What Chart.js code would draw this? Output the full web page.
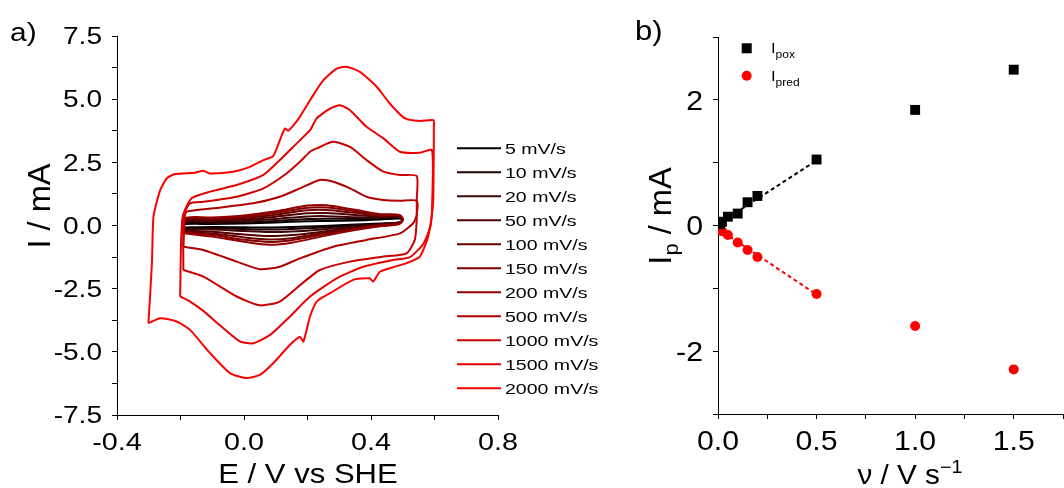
<!DOCTYPE html>
<html>
<head>
<meta charset="utf-8">
<script src="https://cdn.jsdelivr.net/npm/chart.js@4.4.1/dist/chart.umd.min.js"></script>
<style>
    html, body { margin: 0; padding: 0; background: #fff; overflow: hidden; }
    #cvChart { position: absolute; left: 0; top: 0; }
    #peakChart { position: absolute; left: 600px; top: 0; }
</style>
</head>
<body>
<canvas id="cvChart" width="600" height="488"></canvas>
<canvas id="peakChart" width="470" height="488"></canvas>
<script>
// ---- a) voltammogrammes : vitesses de balayage
const scanLabels = ['5 mV/s', '10 mV/s', '20 mV/s', '50 mV/s', '100 mV/s', '150 mV/s',
    '200 mV/s', '500 mV/s', '1000 mV/s', '1500 mV/s', '2000 mV/s'];
const scanColors = ['#000000', '#1e0000', '#3a0808', '#520000', '#680000', '#7e0000',
    '#940000', '#ad0000', '#cc0000', '#e80000', '#ff0000'];

// petites vitesses : potentiel commun (V) et courants (mA)
const smallE = [-0.195, -0.19, -0.10, 0.00, 0.10, 0.20, 0.26, 0.35, 0.43, 0.49,
    0.50, 0.49, 0.43, 0.35, 0.25, 0.15, 0.08, 0.00, -0.10, -0.195];
const cv5 = [-0.08, 0.05, 0.06, 0.08, 0.12, 0.17, 0.18, 0.20, 0.24, 0.28,
    0.22, 0.12, 0.08, 0.04, -0.02, -0.06, -0.08, -0.07, -0.06, -0.08];
const cv10 = [-0.12, 0.10, 0.10, 0.12, 0.18, 0.26, 0.27, 0.26, 0.28, 0.31,
    0.24, 0.12, 0.06, 0.00, -0.08, -0.14, -0.16, -0.14, -0.11, -0.12];
const cv20 = [-0.16, 0.14, 0.15, 0.18, 0.26, 0.36, 0.37, 0.33, 0.32, 0.34,
    0.24, 0.12, 0.05, -0.04, -0.15, -0.24, -0.26, -0.22, -0.16, -0.16];
const cv50 = [-0.20, 0.18, 0.20, 0.24, 0.35, 0.48, 0.49, 0.42, 0.36, 0.37,
    0.24, 0.11, 0.03, -0.08, -0.24, -0.38, -0.42, -0.36, -0.25, -0.20];
const cv100 = [-0.24, 0.22, 0.25, 0.30, 0.43, 0.60, 0.61, 0.50, 0.40, 0.39,
    0.24, 0.10, 0.02, -0.12, -0.30, -0.50, -0.55, -0.47, -0.32, -0.24];
const cv150 = [-0.27, 0.25, 0.28, 0.34, 0.50, 0.70, 0.71, 0.56, 0.42, 0.40,
    0.24, 0.08, 0.00, -0.15, -0.36, -0.58, -0.65, -0.56, -0.38, -0.27];
const cv200 = [-0.30, 0.28, 0.32, 0.40, 0.56, 0.79, 0.80, 0.62, 0.45, 0.42,
    0.24, 0.06, -0.03, -0.18, -0.42, -0.68, -0.76, -0.64, -0.44, -0.30];

// grandes vitesses : couples [E (V), I (mA)]
const cv500 = [[-0.191, -0.84], [-0.186, 0.41], [-0.180, 0.55], [-0.097, 0.68], [0.029, 0.88],
    [0.113, 1.14], [0.176, 1.47], [0.239, 1.80], [0.281, 1.73], [0.334, 1.47], [0.386, 1.14],
    [0.439, 1.01], [0.491, 0.98], [0.544, 0.98], [0.544, 0.41], [0.533, 0.09], [0.491, -0.31],
    [0.386, -0.57], [0.281, -0.84], [0.176, -1.30], [0.113, -1.63], [0.050, -1.73],
    [-0.023, -1.43], [-0.128, -0.97], [-0.191, -0.84]];
const cv1000 = [[-0.191, -1.76], [-0.191, -0.18], [-0.186, 0.53], [-0.170, 0.88], [-0.128, 0.94],
    [-0.023, 1.14], [0.061, 1.47], [0.134, 2.06], [0.176, 2.52], [0.208, 2.92], [0.229, 3.05],
    [0.281, 3.31], [0.334, 3.11], [0.386, 2.59], [0.439, 2.13], [0.491, 2.00], [0.544, 1.96],
    [0.544, 1.01], [0.544, 0.22], [0.538, -0.57], [0.512, -1.10], [0.439, -1.23], [0.334, -1.43],
    [0.239, -1.76], [0.190, -2.22], [0.113, -3.01], [0.050, -3.16], [-0.023, -2.81],
    [-0.128, -2.02], [-0.191, -1.76]];
const cv1500 = [[-0.201, -2.81], [-0.198, -0.57], [-0.192, 0.41], [-0.165, 1.08], [-0.107, 1.34],
    [-0.023, 1.60], [0.061, 2.00], [0.113, 2.59], [0.166, 3.25], [0.208, 3.77], [0.229, 4.24],
    [0.271, 4.63], [0.302, 4.76], [0.333, 4.57], [0.365, 4.17], [0.386, 3.91], [0.439, 3.45],
    [0.491, 2.92], [0.554, 2.88], [0.592, 2.98], [0.593, 1.00], [0.588, 0.02], [0.565, -0.72],
    [0.523, -1.25], [0.470, -1.36], [0.376, -1.63], [0.292, -2.09], [0.208, -2.81],
    [0.145, -3.60], [0.082, -4.33], [0.029, -4.66], [-0.013, -4.59], [-0.076, -3.95],
    [-0.128, -3.38], [-0.170, -3.01], [-0.201, -2.81]];
const cv2000 = [[-0.301, -3.87], [-0.290, -1.49], [-0.285, 0.35], [-0.264, 1.40], [-0.243, 1.87],
    [-0.217, 2.04], [-0.154, 2.09], [-0.128, 2.17], [-0.107, 2.06], [-0.034, 2.13], [0.019, 2.32],
    [0.061, 2.59], [0.092, 2.75], [0.113, 3.38], [0.129, 3.84], [0.139, 3.75], [0.151, 3.89],
    [0.176, 4.30], [0.208, 4.96], [0.250, 5.75], [0.292, 6.21], [0.323, 6.28], [0.365, 6.08],
    [0.418, 5.49], [0.459, 4.83], [0.507, 4.24], [0.554, 4.14], [0.597, 4.17], [0.598, 3.90],
    [0.596, 1.00], [0.591, 0.35], [0.580, -0.44], [0.554, -1.23], [0.512, -1.49], [0.470, -1.65],
    [0.428, -1.83], [0.407, -2.22], [0.396, -2.09], [0.344, -2.15], [0.271, -2.68], [0.229, -3.01],
    [0.208, -3.60], [0.187, -4.59], [0.176, -4.40], [0.145, -4.72], [0.092, -5.45], [0.050, -5.91],
    [0.008, -6.04], [-0.044, -5.84], [-0.107, -5.05], [-0.170, -4.13], [-0.212, -3.80],
    [-0.264, -3.67], [-0.301, -3.87]];

// ---- b) courants de pic en fonction de la vitesse
const scanRates = [0.005, 0.01, 0.02, 0.05, 0.1, 0.15, 0.2, 0.5, 1.0, 1.5];
const ipOx = [0.02, 0.04, 0.06, 0.14, 0.19, 0.37, 0.47, 1.05, 1.84, 2.48];
const ipRed = [-0.04, -0.06, -0.09, -0.15, -0.27, -0.39, -0.50, -1.09, -1.60, -2.29];
const fitRates = [0, 0.5];
const fitOx = [0.02, 1.035];
const fitRed = [-0.05, -1.10];

const FONT = '"Liberation Sans", Arial, sans-serif';
Chart.defaults.font.family = FONT;
Chart.defaults.color = '#000';

// texte avec indices / exposants, étiré horizontalement comme l'original
function drawRuns(ctx, runs, x, y, opts) {
    const sx = opts.sx || 1;
    ctx.save();
    ctx.fillStyle = '#000';
    ctx.textBaseline = 'alphabetic';
    ctx.translate(x, y);
    if (opts.rotate) ctx.rotate(opts.rotate);
    ctx.scale(sx, 1);
    let total = 0;
    runs.forEach(r => { ctx.font = r[1] + 'px ' + FONT; total += ctx.measureText(r[0]).width; });
    let cx = opts.align === 'center' ? -total / 2 : (opts.align === 'right' ? -total : 0);
    runs.forEach(r => {
        ctx.font = r[1] + 'px ' + FONT;
        ctx.fillText(r[0], cx, r[2] || 0);
        cx += ctx.measureText(r[0]).width;
    });
    ctx.restore();
}

function fmt(v) {
    return (Math.abs(v) < 1e-9 ? 0 : v).toFixed(1);
}

function axisStyle(extra) {
    return Object.assign({
        type: 'linear',
        grid: { drawOnChartArea: false, drawTicks: true, tickLength: 5, tickColor: '#000', tickWidth: 1 },
        border: { display: true, color: '#000', width: 1 },
        ticks: { autoSkip: false, callback: () => '' }
    }, extra);
}

// 1. Voltammogrammes cycliques
const smallCurves = [cv5, cv10, cv20, cv50, cv100, cv150, cv200]
    .map(cur => smallE.map((e, k) => ({ x: e, y: cur[k] })));
const bigCurves = [cv500, cv1000, cv1500, cv2000]
    .map(pts => pts.map(p => ({ x: p[0], y: p[1] })));
const curves = smallCurves.concat(bigCurves);

const cvLabels = {
    id: 'cvLabels',
    afterDraw(chart) {
        const ctx = chart.ctx;
        const xs = chart.scales.x, ys = chart.scales.y;
        ys.ticks.forEach(t => {
            if (Math.round(t.value * 100) % 250 !== 0) return;
            drawRuns(ctx, [[fmt(t.value), 23]], 102, ys.getPixelForValue(t.value) + 8.2, { align: 'right', sx: 1.22 });
        });
        xs.ticks.forEach(t => {
            if (Math.round(t.value * 10) % 4 !== 0) return;
            drawRuns(ctx, [[fmt(t.value), 24]], xs.getPixelForValue(t.value), 450, { align: 'center', sx: 1.2 });
        });
        drawRuns(ctx, [['E / V vs SHE', 27]], 308, 483, { align: 'center', sx: 1.15 });
        drawRuns(ctx, [['I / mA', 31]], 50, 206, { align: 'center', rotate: -Math.PI / 2, sx: 1.05 });
        drawRuns(ctx, [['a)', 26]], 10, 41, { sx: 1.15 });

        // légende
        scanLabels.forEach((lbl, i) => {
            const y = 148.3 + 24 * i;
            ctx.save();
            ctx.strokeStyle = scanColors[i];
            ctx.lineWidth = 2;
            ctx.beginPath();
            ctx.moveTo(457, y);
            ctx.lineTo(501, y);
            ctx.stroke();
            ctx.restore();
            drawRuns(ctx, [[lbl, 15.5]], 505, y + 5.6, { sx: 1.26 });
        });
    }
};

new Chart(document.getElementById('cvChart'), {
    type: 'scatter',
    data: {
        datasets: curves.map((data, i) => ({
            label: scanLabels[i],
            data: data,
            showLine: true,
            borderColor: scanColors[i],
            backgroundColor: scanColors[i],
            borderWidth: 2,
            pointRadius: 0,
            tension: i < 7 ? 0.3 : 0.2,
            order: curves.length - i
        }))
    },
    options: {
        responsive: false,
        animation: false,
        layout: { padding: { top: 36, right: 102, left: 0, bottom: 0 } },
        plugins: { legend: { display: false }, tooltip: { enabled: false } },
        scales: {
            x: axisStyle({
                min: -0.4, max: 0.8,
                ticks: { autoSkip: false, stepSize: 0.2, callback: () => '' },
                afterFit(scale) { scale.height = 73; }
            }),
            y: axisStyle({
                min: -7.5, max: 7.5,
                ticks: { autoSkip: false, stepSize: 1.25, callback: () => '' },
                afterFit(scale) { scale.width = 117; }
            })
        }
    },
    plugins: [cvLabels]
});

// 2. Courants de pic
const peakLabels = {
    id: 'peakLabels',
    afterDraw(chart) {
        const ctx = chart.ctx;
        const xs = chart.scales.x, ys = chart.scales.y;
        ys.ticks.forEach(t => {
            const v = Math.round(t.value);
            if (v % 2 !== 0) return;
            drawRuns(ctx, [[String(v), 27]], 103, ys.getPixelForValue(t.value) + 9.7, { align: 'right', sx: 1.12 });
        });
        xs.ticks.forEach(t => {
            if (Math.round(t.value * 100) % 50 !== 0 || t.value > 1.6) return;
            drawRuns(ctx, [[fmt(t.value), 27]], xs.getPixelForValue(t.value), 450, { align: 'center', sx: 1.12 });
        });
        drawRuns(ctx, [['ν / V s', 27], ['−1', 18, -11]], 310, 484, { align: 'center', sx: 1.1 });
        drawRuns(ctx, [['I', 31], ['p', 21, 7], [' / mA', 31]], 71, 216, { align: 'center', rotate: -Math.PI / 2, sx: 1.05 });
        drawRuns(ctx, [['b)', 27]], 35, 40, { sx: 1.15 });

        // légende
        ctx.save();
        ctx.fillStyle = '#000';
        ctx.fillRect(141.7, 43.3, 10, 10);
        ctx.fillStyle = '#ff0000';
        ctx.beginPath();
        ctx.arc(146.7, 75.7, 5, 0, Math.PI * 2);
        ctx.fill();
        ctx.restore();
        drawRuns(ctx, [['I', 15], ['pox', 11, 5]], 171, 53, { sx: 1.1 });
        drawRuns(ctx, [['I', 15], ['pred', 11, 5]], 171, 80.5, { sx: 1.1 });
    }
};

new Chart(document.getElementById('peakChart'), {
    type: 'scatter',
    data: {
        datasets: [{
            label: 'Ipox',
            data: scanRates.map((r, k) => ({ x: r, y: ipOx[k] })),
            pointStyle: 'rect',
            pointRadius: 7,
            backgroundColor: '#000',
            borderColor: '#000',
            borderWidth: 0
        }, {
            label: 'Ipred',
            data: scanRates.map((r, k) => ({ x: r, y: ipRed[k] })),
            pointStyle: 'circle',
            pointRadius: 5,
            backgroundColor: '#ff0000',
            borderColor: '#ff0000',
            borderWidth: 0
        }, {
            label: 'fit ox',
            data: fitRates.map((r, k) => ({ x: r, y: fitOx[k] })),
            showLine: true,
            borderColor: '#000',
            borderWidth: 2,
            borderDash: [4, 3],
            pointRadius: 0
        }, {
            label: 'fit red',
            data: fitRates.map((r, k) => ({ x: r, y: fitRed[k] })),
            showLine: true,
            borderColor: '#ff0000',
            borderWidth: 2,
            borderDash: [4, 3],
            pointRadius: 0
        }]
    },
    options: {
        responsive: false,
        animation: false,
        layout: { padding: { top: 37, right: 0, left: 0, bottom: 0 } },
        plugins: { legend: { display: false }, tooltip: { enabled: false } },
        scales: {
            x: axisStyle({
                min: 0, max: 1.75,
                ticks: { autoSkip: false, stepSize: 0.25, callback: () => '' },
                afterFit(scale) { scale.height = 74; }
            }),
            y: axisStyle({
                min: -3, max: 3,
                ticks: { autoSkip: false, stepSize: 1, callback: () => '' },
                afterFit(scale) { scale.width = 118; }
            })
        }
    },
    plugins: [peakLabels]
});
</script>
</body>
</html>
